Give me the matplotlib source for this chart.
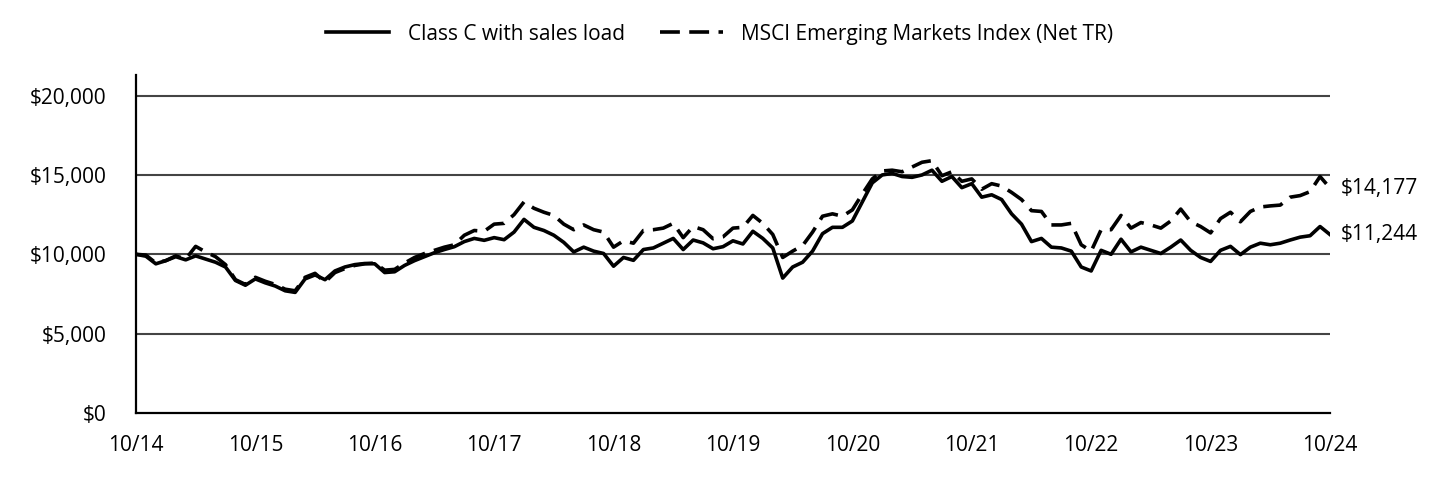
import matplotlib

matplotlib.use("Agg")
import matplotlib.pyplot as plt
from matplotlib.ticker import FuncFormatter
import numpy as np

plt.rcParams["font.family"] = ["Open Sans", "DejaVu Sans"]

# monthly values, 10/14 .. 10/24 (121 points)
class_c = [
    10000, 9880, 9400, 9600, 9850, 9650, 9900, 9700, 9500, 9200,
    8350, 8050, 8450, 8200, 8000, 7700, 7600, 8450, 8700, 8400,
    8950, 9200, 9350, 9420, 9400, 8850, 8900, 9300, 9600, 9850,
    10100, 10300, 10480, 10800, 11000, 10880, 11050, 10920, 11400, 12200,
    11700, 11500, 11200, 10750, 10150, 10450, 10200, 10050, 9250, 9800,
    9620, 10300, 10400, 10700, 11000, 10300, 10900, 10720, 10350, 10480,
    10850, 10650, 11450, 11000, 10400, 8500, 9200, 9500, 10200, 11300,
    11700, 11700, 12100, 13300, 14500, 15000, 15100, 14900, 14850, 15000,
    15300, 14600, 14900, 14200, 14450, 13600, 13750, 13450, 12550, 11900,
    10800, 11000, 10450, 10400, 10200, 9200, 8950, 10250, 10000, 10950,
    10150, 10450, 10250, 10050, 10450, 10900, 10250, 9800, 9550, 10250,
    10500, 9980, 10450, 10700, 10600, 10700, 10900, 11080, 11170, 11750,
    11244,
]
msci_em = [
    10000, 9950, 9450, 9600, 9900, 9700, 10500, 10150, 9850, 9350,
    8400, 8100, 8550, 8300, 8100, 7800, 7700, 8550, 8800, 8250,
    8850, 9100, 9300, 9400, 9450, 9000, 9050, 9450, 9800, 10050,
    10250, 10450, 10600, 11200, 11500, 11450, 11900, 11950, 12500, 13300,
    12900, 12650, 12450, 11900, 11550, 11850, 11550, 11400, 10450, 10850,
    10700, 11500, 11550, 11650, 11950, 11050, 11750, 11550, 10980, 11100,
    11650, 11700, 12450, 11950, 11250, 9800, 10200, 10550, 11400, 12400,
    12550, 12400, 12800, 13800, 14750, 15250, 15300, 15200, 15500, 15800,
    15900, 14950, 15200, 14600, 14750, 14100, 14450, 14300, 13900, 13450,
    12750, 12700, 11850, 11850, 11950, 10600, 10200, 11550, 11550, 12450,
    11650, 12000, 11850, 11650, 12100, 12850, 12050, 11750, 11350, 12250,
    12650, 12050, 12700, 12980, 13050, 13100, 13600, 13700, 13950, 14900,
    14177,
]
tick_labels = ["10/14", "10/15", "10/16", "10/17", "10/18", "10/19",
               "10/20", "10/21", "10/22", "10/23", "10/24"]
series_names = ["Class C with sales load", "MSCI Emerging Markets Index (Net TR)"]

months = np.arange(len(class_c))
fs = 15

fig = plt.figure(figsize=(14.4, 4.8), dpi=100)
ax = fig.add_axes([0.0944, 0.1396, 0.8292, 0.7042])

ax.plot(months, class_c, color="black", lw=2.6, label=series_names[0],
        solid_joinstyle="round", zorder=3)
ax.plot(months, msci_em, color="black", lw=2.6, ls=(0, (5.5, 2.6)),
        label=series_names[1], zorder=3)

ax.set_xlim(0, 120)
ax.set_ylim(0, 21300)
ax.set_yticks([0, 5000, 10000, 15000, 20000])
ax.yaxis.set_major_formatter(FuncFormatter(lambda v, p: f"${v:,.0f}"))
ax.set_xticks(np.arange(0, 121, 12))
ax.set_xticklabels(tick_labels)
ax.tick_params(axis="both", length=0, labelsize=fs, colors="black")
ax.tick_params(axis="y", pad=21)
ax.tick_params(axis="x", pad=16)

for v in [5000, 10000, 15000, 20000]:
    ax.axhline(v, color="#444444", lw=1.5, zorder=1)

for s in ["top", "right"]:
    ax.spines[s].set_visible(False)
ax.spines["left"].set_linewidth(1.6)
ax.spines["bottom"].set_linewidth(1.6)

for vals in (msci_em, class_c):
    ax.annotate(f"${vals[-1]:,.0f}", xy=(months[-1], vals[-1]),
                xytext=(8, 0), textcoords="offset points",
                va="center", ha="left", fontsize=fs, annotation_clip=False)

fig.legend(loc="upper center", bbox_to_anchor=(0.5, 0.99), ncol=2,
           frameon=False, fontsize=fs, handlelength=3.0,
           handletextpad=0.9, columnspacing=1.7)

fig.savefig("out.png", dpi=100)
plt.close(fig)
